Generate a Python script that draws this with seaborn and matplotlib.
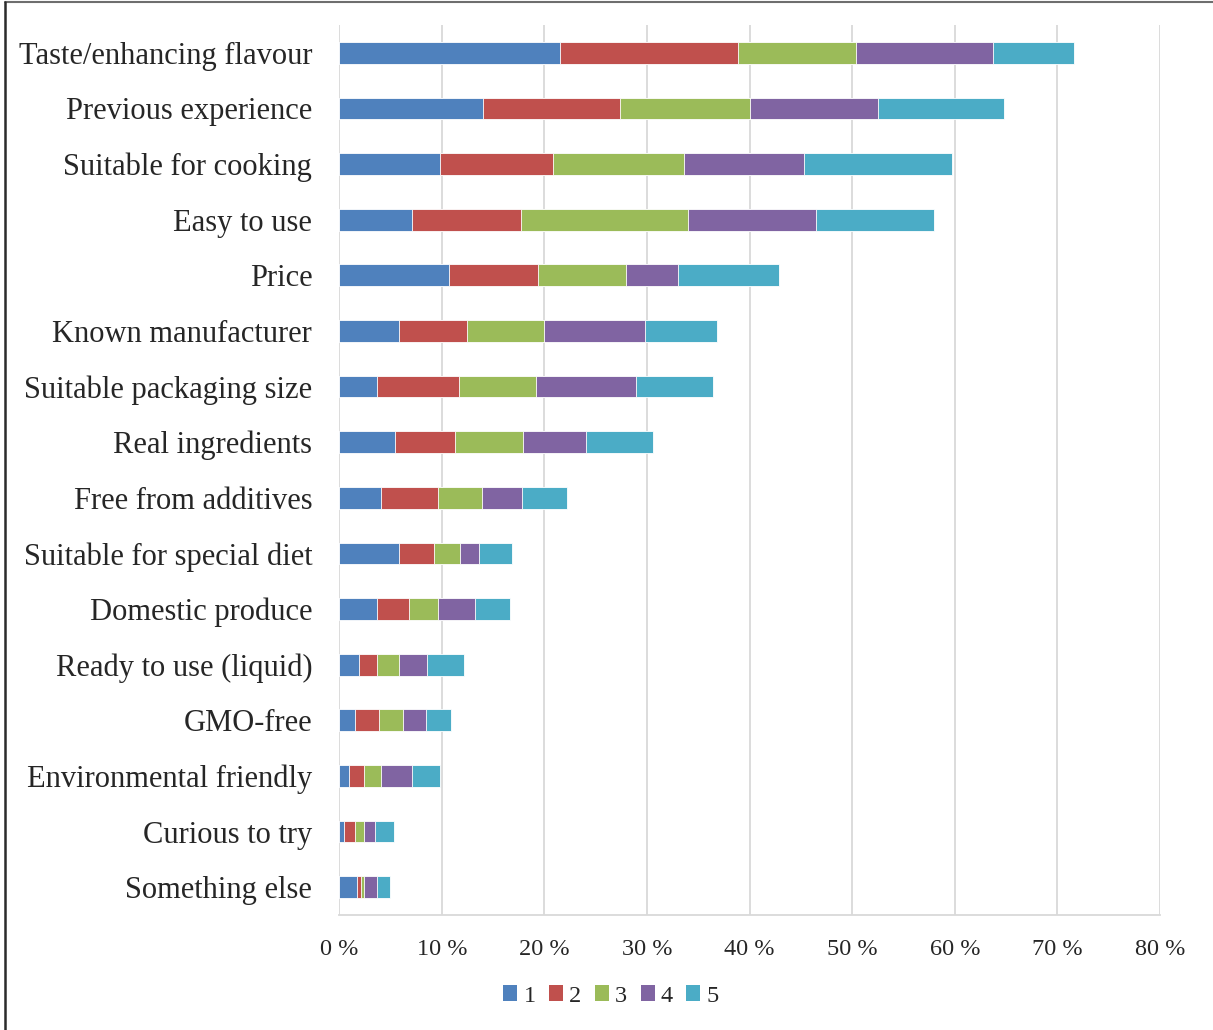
import numpy as np
import pandas as pd
import seaborn as sns
import matplotlib.pyplot as plt
from matplotlib.patches import Patch
from matplotlib.lines import Line2D

categories = [
    "Taste/enhancing flavour", "Previous experience", "Suitable for cooking",
    "Easy to use", "Price", "Known manufacturer", "Suitable packaging size",
    "Real ingredients", "Free from additives", "Suitable for special diet",
    "Domestic produce", "Ready to use (liquid)", "GMO-free",
    "Environmental friendly", "Curious to try", "Something else",
]

# Share of respondents (%) by rating 1..5
rating_1 = [21.5, 14.0, 9.8, 7.1, 10.7, 5.8, 3.7, 5.4, 4.1, 5.8, 3.7, 1.95, 1.55, 0.9, 0.5, 1.75]
rating_2 = [17.4, 13.4, 11.0, 10.6, 8.7, 6.6, 8.0, 5.9, 5.5, 3.4, 3.1, 1.7, 2.3, 1.5, 1.05, 0.4]
rating_3 = [11.5, 12.6, 12.8, 16.3, 8.5, 7.6, 7.5, 6.6, 4.3, 2.55, 2.8, 2.15, 2.35, 1.7, 0.85, 0.25]
rating_4 = [13.3, 12.5, 11.7, 12.5, 5.1, 9.8, 9.7, 6.1, 3.95, 1.9, 3.6, 2.75, 2.3, 2.95, 1.05, 1.3]
rating_5 = [7.9, 12.3, 14.4, 11.5, 9.9, 7.0, 7.5, 6.6, 4.3, 3.15, 3.4, 3.6, 2.35, 2.75, 1.9, 1.25]

series_names = ["1", "2", "3", "4", "5"]
colors = ["#4F81BD", "#C0504D", "#9BBB59", "#8064A2", "#4BACC6"]

df = pd.DataFrame({"category": categories, "1": rating_1, "2": rating_2,
                   "3": rating_3, "4": rating_4, "5": rating_5})
cum = df[series_names].cumsum(axis=1)

sns.set_theme(style="white")
plt.rcParams["font.family"] = ["Liberation Serif", "DejaVu Serif"]

W, H = 1213, 1030
fig = plt.figure(figsize=(W / 100, H / 100), dpi=100)
ax = fig.add_axes([339.3 / W, 1 - 915 / H, (1160 - 339.3) / W, (915 - 25) / H])

# Stacked bars: draw cumulative totals from the outermost layer inwards
for name, col in reversed(list(zip(series_names, colors))):
    sns.barplot(x=cum[name], y=df["category"], orient="h", color=col,
                width=0.39, ax=ax, edgecolor="white", linewidth=0.6,
                saturation=1, zorder=3)

ax.set_xlim(0, 80)
ax.set_xticks(np.arange(0, 81, 10))
ax.set_xticklabels([f"{v} %" for v in range(0, 81, 10)], fontsize=17.5)
ax.tick_params(axis="x", length=0, pad=17)
ax.tick_params(axis="y", length=0, pad=19.5, labelsize=22)
ax.set_xlabel("")
ax.set_ylabel("")
ax.grid(axis="x", color="#d9d9d9", linewidth=1.3, zorder=0)
ax.set_axisbelow(True)
for side in ["top", "right", "left"]:
    ax.spines[side].set_visible(False)
ax.spines["bottom"].set_color("#d9d9d9")
ax.spines["bottom"].set_linewidth(1.3)

handles = [Patch(facecolor=c, edgecolor="none", label=n) for n, c in zip(series_names, colors)]
fig.legend(handles=handles, loc="center", bbox_to_anchor=(611 / W, 1 - 996 / H),
           ncol=5, frameon=False, fontsize=17.5, handlelength=0.58, handleheight=0.58,
           handletextpad=0.25, columnspacing=0.55, borderpad=0.2)

# Outer frame: top and left edges
fig.add_artist(Line2D([4.5 / W, 1], [1 - 1.5 / H, 1 - 1.5 / H], transform=fig.transFigure,
                      color="#6e6e6e", linewidth=1.5))
fig.add_artist(Line2D([4.5 / W, 4.5 / W], [0, 1 - 1.5 / H], transform=fig.transFigure,
                      color="#2b2b2b", linewidth=1.8))

fig.savefig("out.png", dpi=100)
